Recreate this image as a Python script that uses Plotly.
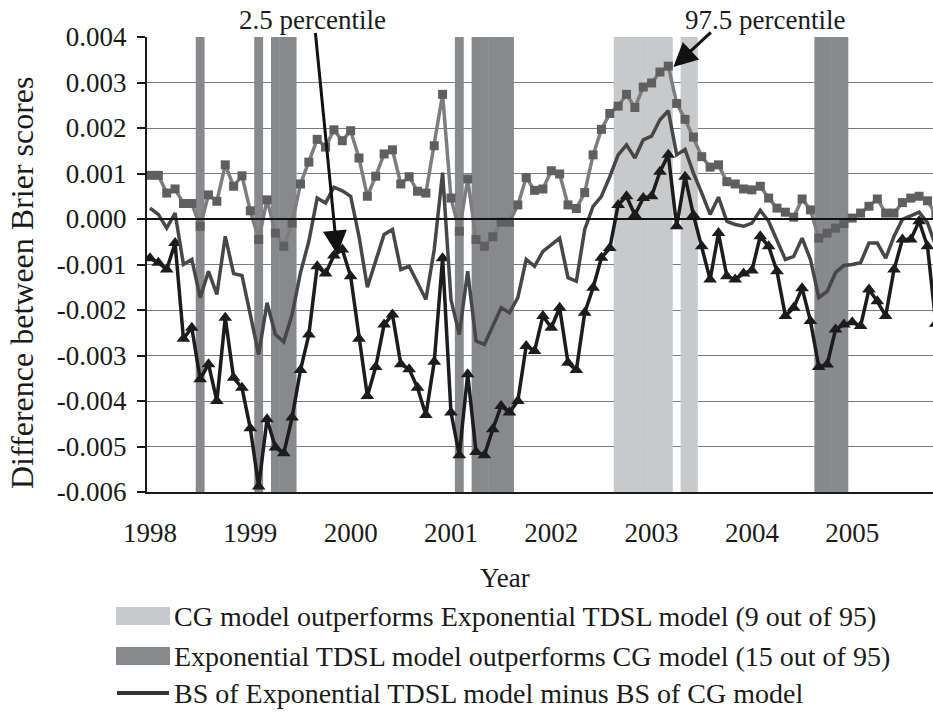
import plotly.graph_objs as go

# monthly index 0..94 (Jan 1998 onward)
upper_975 = [
    0.00096, 0.00096, 0.00057, 0.00066, 0.00034, 0.00034, -0.00016, 0.00053, 0.00039, 0.00119,
    0.00072, 0.00095, 0.00018, -0.00045, 0.00042, -0.00031, -0.00060, -0.00009, 0.00077, 0.00125,
    0.00175, 0.00158, 0.00196, 0.00172, 0.00194, 0.00134, 0.00050, 0.00094, 0.00143, 0.00152,
    0.00077, 0.00093, 0.00061, 0.00057, 0.00161, 0.00274, 0.00046, -0.00027, 0.00088, -0.00045,
    -0.00060, -0.00039, -0.00007, -0.00007, 0.00031, 0.00091, 0.00063, 0.00066, 0.00106, 0.00099,
    0.00031, 0.00023, 0.00058, 0.00141, 0.00197, 0.00232, 0.00248, 0.00274, 0.00245, 0.00290,
    0.00299, 0.00323, 0.00336, 0.00254, 0.00219, 0.00180, 0.00137, 0.00114, 0.00119, 0.00082,
    0.00077, 0.00066, 0.00064, 0.00072, 0.00046, 0.00024, 0.00015, 0.00004, 0.00044, 0.00020,
    -0.00042, -0.00031, -0.00020, -0.00010, 0.00002, 0.00013, 0.00028, 0.00044, 0.00013, 0.00013,
    0.00036, 0.00046, 0.00050, 0.00040, 0.00010,
]
bs_diff = [
    0.00024, 0.00010, -0.00020, 0.00013, -0.00100, -0.00089, -0.00173, -0.00115, -0.00166, -0.00038,
    -0.00120, -0.00124, -0.00210, -0.00298, -0.00184, -0.00254, -0.00270, -0.00210, -0.00118, -0.00049,
    0.00046, 0.00035, 0.00070, 0.00062, 0.00050, -0.00038, -0.00150, -0.00095, -0.00034, -0.00023,
    -0.00111, -0.00104, -0.00140, -0.00177, -0.00067, 0.00102, -0.00177, -0.00254, -0.00115, -0.00268,
    -0.00276, -0.00235, -0.00195, -0.00206, -0.00173, -0.00089, -0.00104, -0.00071, -0.00056, -0.00042,
    -0.00129, -0.00137, -0.00023, 0.00028, 0.00050, 0.00093, 0.00141, 0.00163, 0.00134, 0.00174,
    0.00182, 0.00218, 0.00238, 0.00141, 0.00153, 0.00101, 0.00057, 0.00010, 0.00048, -0.00005,
    -0.00012, -0.00016, -0.00009, 0.00019, -0.00005, -0.00049, -0.00089, -0.00082, -0.00042, -0.00089,
    -0.00173, -0.00159, -0.00118, -0.00102, -0.00100, -0.00096, -0.00053, -0.00053, -0.00086, -0.00038,
    -0.00001, 0.00007, 0.00015, -0.00008, -0.00060,
]
lower_25 = [
    -0.00086, -0.00096, -0.00111, -0.00053, -0.00263, -0.00239, -0.00352, -0.00319, -0.00400, -0.00217,
    -0.00349, -0.00371, -0.00460, -0.00588, -0.00440, -0.00502, -0.00515, -0.00436, -0.00332, -0.00254,
    -0.00104, -0.00120, -0.00080, -0.00067, -0.00126, -0.00263, -0.00389, -0.00325, -0.00232, -0.00210,
    -0.00319, -0.00330, -0.00371, -0.00431, -0.00314, -0.00086, -0.00425, -0.00519, -0.00341, -0.00512,
    -0.00519, -0.00462, -0.00411, -0.00425, -0.00400, -0.00279, -0.00290, -0.00213, -0.00239, -0.00195,
    -0.00316, -0.00332, -0.00206, -0.00151, -0.00085, -0.00064, 0.00031, 0.00050, 0.00009, 0.00046,
    0.00050, 0.00104, 0.00141, -0.00016, 0.00093, 0.00009, -0.00060, -0.00133, -0.00031, -0.00126,
    -0.00133, -0.00120, -0.00113, -0.00038, -0.00060, -0.00115, -0.00213, -0.00195, -0.00152, -0.00224,
    -0.00325, -0.00320, -0.00243, -0.00232, -0.00227, -0.00235, -0.00155, -0.00181, -0.00213, -0.00111,
    -0.00045, -0.00045, -0.00005, -0.00060, -0.00230,
]
months = list(range(len(bs_diff)))

# months where one model significantly outperforms the other
cg_better = [56, 57, 58, 59, 60, 61, 62, 64, 65]
tdsl_better = [6, 13, 15, 16, 17, 37, 39, 40, 41, 42, 43, 80, 81, 82, 83]

year_ticks = [0, 12, 24, 36, 48, 60, 72, 84]
year_labels = ["1998", "1999", "2000", "2001", "2002", "2003", "2004", "2005"]
y_ticks = [0.004, 0.003, 0.002, 0.001, 0.0, -0.001, -0.002, -0.003, -0.004, -0.005, -0.006]
y_labels = ["0.004", "0.003", "0.002", "0.001", "0.000", "-0.001", "-0.002", "-0.003",
            "-0.004", "-0.005", "-0.006"]

legend_labels = [
    "CG model outperforms Exponential TDSL model (9 out of 95)",
    "Exponential TDSL model outperforms CG model (15 out of 95)",
    "BS of Exponential TDSL model minus BS of CG model",
]

FONT = "Liberation Serif, Times New Roman, serif"
LIGHT = "#c8c9cb"
DARK = "#88898d"
Y_MIN, Y_MAX = -0.006, 0.004

# pixel geometry of the plot area
W, H = 933, 715
L, T, B = 147, 37, 223
PW, PH = W - L, H - T - B
PX_PER_MONTH = 8.36


def px(x):
    return (x - L) / PW


def py(y):
    return (H - B - y) / PH


traces = [
    go.Bar(x=cg_better, y=[Y_MAX - Y_MIN] * len(cg_better), base=Y_MIN, width=1.06,
           marker=dict(color=LIGHT, line=dict(width=0)), showlegend=False),
    go.Bar(x=tdsl_better, y=[Y_MAX - Y_MIN] * len(tdsl_better), base=Y_MIN, width=1.06,
           marker=dict(color=DARK, line=dict(width=0)), showlegend=False),
    go.Scatter(x=months, y=upper_975, mode="lines+markers",
               line=dict(color="#7d7d7d", width=3.5),
               marker=dict(symbol="square", size=9, color="#5f5f5f"), showlegend=False),
    go.Scatter(x=months, y=lower_25, mode="lines+markers",
               line=dict(color="#1c1c1c", width=3.5),
               marker=dict(symbol="triangle-up", size=12, color="#1c1c1c"), showlegend=False),
    go.Scatter(x=months, y=bs_diff, mode="lines",
               line=dict(color="#474747", width=3.5), showlegend=False),
]

layout = go.Layout(
    width=W, height=H, autosize=False,
    margin=dict(l=L, r=0, t=T, b=B),
    paper_bgcolor="white", plot_bgcolor="white",
    font=dict(family=FONT, size=27, color="#1a1a1a"),
    barmode="overlay", showlegend=False,
    xaxis=dict(
        range=[-3 / PX_PER_MONTH, PW / PX_PER_MONTH - 3 / PX_PER_MONTH],
        tickvals=year_ticks, ticktext=year_labels, ticks="",
        showgrid=False, zeroline=False,
        showline=True, linecolor="#1a1a1a", linewidth=2,
        ticklabelstandoff=16,
    ),
    yaxis=dict(
        range=[Y_MIN, Y_MAX],
        tickvals=y_ticks, ticktext=y_labels,
        ticks="outside", ticklen=8, tickcolor="#1a1a1a", tickwidth=1.5,
        showgrid=True, gridcolor="#7a7a7a", gridwidth=1.2,
        zeroline=False,
        showline=True, linecolor="#1a1a1a", linewidth=2,
        ticklabelstandoff=5,
    ),
)

fig = go.Figure(data=traces, layout=layout)

# horizontal line at zero, drawn over the shaded months
fig.add_shape(type="line", xref="paper", yref="y", x0=0, x1=1, y0=0, y1=0,
              layer="above", line=dict(color="#111111", width=2.2))

# axis titles
fig.add_annotation(text="Year", xref="paper", yref="paper", x=px(505), y=py(578),
                   showarrow=False, xanchor="center", yanchor="middle")
fig.add_annotation(text="Difference between Brier scores", xref="paper", yref="paper",
                   x=px(22), y=py(283), textangle=-90, showarrow=False,
                   xanchor="center", yanchor="middle", font=dict(size=32))

# percentile call-outs
fig.add_annotation(text="2.5 percentile", xref="paper", yref="paper", x=px(312), y=py(20),
                   showarrow=False, xanchor="center", yanchor="middle")
fig.add_annotation(text="97.5 percentile", xref="paper", yref="paper", x=px(765), y=py(20),
                   showarrow=False, xanchor="center", yanchor="middle")
fig.add_annotation(text="", x=22.4, y=-0.00078, ax=-22, ay=-223, showarrow=True,
                   arrowhead=2, arrowsize=1.6, arrowwidth=3, arrowcolor="#111111")
fig.add_annotation(text="", x=62.6, y=0.00334, ax=39, ay=-36, showarrow=True,
                   arrowhead=2, arrowsize=1.6, arrowwidth=3, arrowcolor="#111111")

# legend drawn below the chart
rows = [616, 656, 693]
fig.add_shape(type="rect", xref="paper", yref="paper", x0=px(116), x1=px(170),
              y0=py(625), y1=py(607), fillcolor=LIGHT, line=dict(width=0))
fig.add_shape(type="rect", xref="paper", yref="paper", x0=px(116), x1=px(170),
              y0=py(665), y1=py(647), fillcolor=DARK, line=dict(width=0))
fig.add_shape(type="line", xref="paper", yref="paper", x0=px(117), x1=px(169),
              y0=py(rows[2]), y1=py(rows[2]), line=dict(color="#333333", width=4))
for label, row in zip(legend_labels, rows):
    fig.add_annotation(text=label, xref="paper", yref="paper", x=px(172), y=py(row),
                       showarrow=False, xanchor="left", yanchor="middle",
                       font=dict(size=28))

# drop the default page margin so the figure sits at the window's top-left corner
fig.write_html("out.html", config={"displayModeBar": False},
               post_script="document.body.style.margin = '0px';")
